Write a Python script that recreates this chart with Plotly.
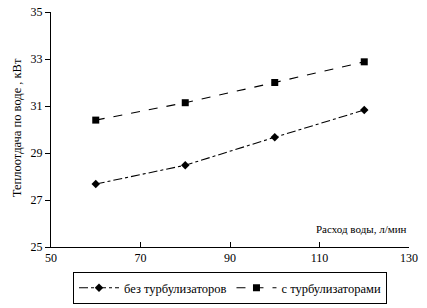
import plotly.graph_objects as go

flow = [60, 80, 100, 120]
without_turb = [27.68, 28.48, 29.67, 30.83]
with_turb = [30.4, 31.14, 32.0, 32.88]
name_without = "без турбулизаторов"
name_with = "с турбулизаторами"
x_ticks = [50, 70, 90, 110, 130]
y_ticks = [25, 27, 29, 31, 33, 35]

FONT = "Liberation Serif, Times New Roman, serif"

fig = go.Figure()
fig.add_trace(go.Scatter(
    x=flow, y=without_turb, name=name_without, mode="lines+markers",
    line=dict(color="black", width=1.1, dash="dashdot"),
    marker=dict(symbol="diamond", size=6.5, color="black"),
))
fig.add_trace(go.Scatter(
    x=flow, y=with_turb, name=name_with, mode="lines+markers",
    line=dict(color="black", width=1.1, dash="dash"),
    marker=dict(symbol="square", size=7, color="black"),
))

fig.update_layout(
    width=427, height=308,
    margin=dict(l=51, r=18, t=12, b=61, autoexpand=False),
    paper_bgcolor="white", plot_bgcolor="white",
    font=dict(family=FONT, size=12, color="black"),
    showlegend=True,
    legend=dict(
        orientation="h", x=0.5, xanchor="center", y=-0.175, yanchor="middle",
        bordercolor="black", borderwidth=1, bgcolor="white",
        font=dict(family=FONT, size=12.5, color="black"),
        itemwidth=40, tracegroupgap=0,
    ),
    xaxis=dict(
        range=[50, 130], tickvals=x_ticks, ticks="inside", ticklen=5,
        tickcolor="black", showline=True, linecolor="black", linewidth=1,
        showgrid=False, zeroline=False, tickfont=dict(size=12), automargin=False,
    ),
    yaxis=dict(
        range=[25, 35], tickvals=y_ticks, ticks="outside", ticklen=5,
        tickcolor="black", showline=True, linecolor="black", linewidth=1,
        showgrid=False, zeroline=False, tickfont=dict(size=12), automargin=False,
    ),
    annotations=[
        dict(text="Теплоотдача по воде , кВт", xref="paper", yref="paper",
             x=-0.095, y=0.51, xanchor="center", yanchor="middle",
             textangle=-90, showarrow=False, font=dict(size=12.5)),
        dict(text="Расход воды, л/мин", xref="paper", yref="paper",
             x=1.0, y=0.075, xanchor="right", yanchor="middle",
             showarrow=False, font=dict(size=11)),
    ],
)

fig.write_html(
    "out.html",
    config={"displayModeBar": False},
    post_script="document.body.style.margin='0';document.body.style.padding='0';",
)
